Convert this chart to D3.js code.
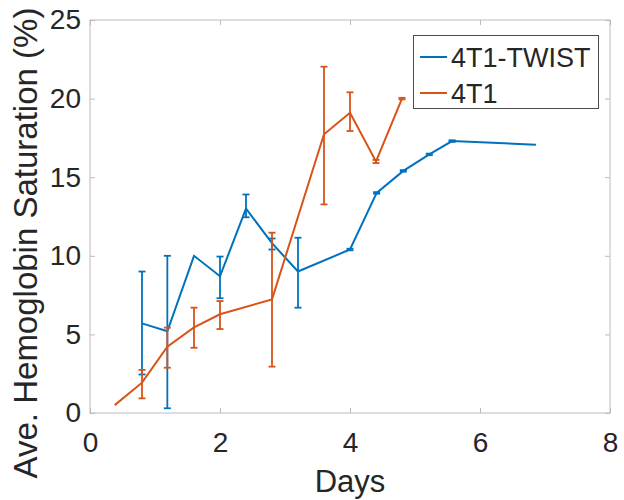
<!DOCTYPE html>
<html>
<head>
<meta charset="utf-8">
<script src="https://cdn.jsdelivr.net/npm/d3@7"></script>
<style>
  body { margin: 0; background: #fff; }
  text { font-family: "Liberation Sans", Arial, sans-serif; fill: #262626; }
</style>
</head>
<body>
<svg id="svg" width="624" height="500"></svg>
<script>
// 4T1-TWIST series
const twistDays = [0.8, 1.19, 1.6, 2.0, 2.4, 2.8, 3.2, 4.0, 4.41, 4.82, 5.22, 5.57, 6.86];
const twistMean = [5.7, 5.2, 10.0, 8.7, 13.0, 10.8, 9.0, 10.4, 14.0, 15.4, 16.45, 17.3, 17.07];
const twistHigh = [9.0, 10.0, 10.0, 9.95, 13.9, 11.1, 11.15, 10.45, 14.05, 15.45, 16.5, 17.35, 17.07];
const twistLow = [2.45, 0.3, 10.0, 7.3, 12.45, 10.4, 6.7, 10.35, 13.95, 15.35, 16.4, 17.25, 17.07];

// 4T1 series
const ctrlDays = [0.38, 0.8, 1.19, 1.6, 2.0, 2.8, 3.6, 4.0, 4.4, 4.8];
const ctrlMean = [0.5, 1.93, 4.22, 5.45, 6.28, 7.23, 17.73, 19.1, 16.0, 20.0];
const ctrlHigh = [0.5, 2.74, 5.43, 6.7, 7.12, 11.47, 22.03, 20.4, 16.1, 20.05];
const ctrlLow = [0.5, 0.93, 2.88, 4.15, 5.34, 2.95, 13.27, 17.94, 15.9, 19.95];

const xTicks = [0, 2, 4, 6, 8];
const yTicks = [0, 5, 10, 15, 20, 25];
const seriesNames = ["4T1-TWIST", "4T1"];
const seriesColors = ["#0072BD", "#D95319"];

const svg = d3.select("#svg");
const mLeft = 90, mRight = 610, mTop = 20, mBottom = 413;

const x = d3.scaleLinear().domain([0, 8]).range([mLeft, mRight]);
const y = d3.scaleLinear().domain([0, 25]).range([mBottom, mTop]);

// axes box
svg.append("rect")
  .attr("x", mLeft).attr("y", mTop)
  .attr("width", mRight - mLeft).attr("height", mBottom - mTop)
  .attr("fill", "none").attr("stroke", "#bbbbbb").attr("stroke-width", 1);

const xAxis = svg.append("g")
  .attr("transform", "translate(0," + mBottom + ")")
  .call(d3.axisBottom(x).tickValues(xTicks).tickSize(-5).tickPadding(19));
const yAxis = svg.append("g")
  .attr("transform", "translate(" + mLeft + ",0)")
  .call(d3.axisLeft(y).tickValues(yTicks).tickSize(-5).tickPadding(9));
// mirror ticks on top and right
svg.append("g")
  .attr("transform", "translate(0," + mTop + ")")
  .call(d3.axisTop(x).tickValues(xTicks).tickSize(-5).tickFormat(""));
svg.append("g")
  .attr("transform", "translate(" + mRight + ",0)")
  .call(d3.axisRight(y).tickValues(yTicks).tickSize(-5).tickFormat(""));

svg.selectAll(".domain").remove();
svg.selectAll(".tick line").attr("stroke", "#bbbbbb");
xAxis.selectAll("text").attr("font-size", 28).attr("dy", "0.71em");
yAxis.selectAll("text").attr("font-size", 28);
svg.selectAll(".tick text").style("fill", "#262626");

// axis labels
svg.append("text")
  .attr("x", 350).attr("y", 492)
  .attr("text-anchor", "middle").attr("font-size", 31)
  .text("Days");
svg.append("text")
  .attr("transform", "translate(37,243) rotate(-90)")
  .attr("text-anchor", "middle").attr("font-size", 33)
  .text("Ave. Hemoglobin Saturation (%)");

function drawSeries(days, mean, low, high, color) {
  const pts = days.map((d, i) => ({ d: d, m: mean[i], lo: low[i], hi: high[i] }));
  const line = d3.line().x((p) => x(p.d)).y((p) => y(p.m));
  svg.append("path")
    .datum(pts)
    .attr("d", line)
    .attr("fill", "none")
    .attr("stroke", color)
    .attr("stroke-width", 2);

  const bars = svg.append("g").attr("stroke", color).attr("stroke-width", 1.8);
  pts.filter((p) => p.hi > p.lo).forEach((p) => {
    bars.append("line")
      .attr("x1", x(p.d)).attr("x2", x(p.d))
      .attr("y1", y(p.hi)).attr("y2", y(p.lo));
    [p.hi, p.lo].forEach((v) => {
      bars.append("line")
        .attr("x1", x(p.d) - 3.5).attr("x2", x(p.d) + 3.5)
        .attr("y1", y(v)).attr("y2", y(v));
    });
  });
}

drawSeries(twistDays, twistMean, twistLow, twistHigh, seriesColors[0]);
drawSeries(ctrlDays, ctrlMean, ctrlLow, ctrlHigh, seriesColors[1]);

// legend
const legend = svg.append("g");
legend.append("rect")
  .attr("x", 413.5).attr("y", 35.5)
  .attr("width", 185).attr("height", 73)
  .attr("fill", "#fff").attr("stroke", "#4d4d4d").attr("stroke-width", 1);
seriesNames.forEach((name, i) => {
  const cy = 57 + i * 36;
  legend.append("line")
    .attr("x1", 420).attr("x2", 447)
    .attr("y1", cy).attr("y2", cy)
    .attr("stroke", seriesColors[i]).attr("stroke-width", 2);
  legend.append("text")
    .attr("x", 451).attr("y", cy)
    .attr("dy", "0.36em")
    .attr("font-size", 27)
    .text(name);
});
</script>
</body>
</html>
